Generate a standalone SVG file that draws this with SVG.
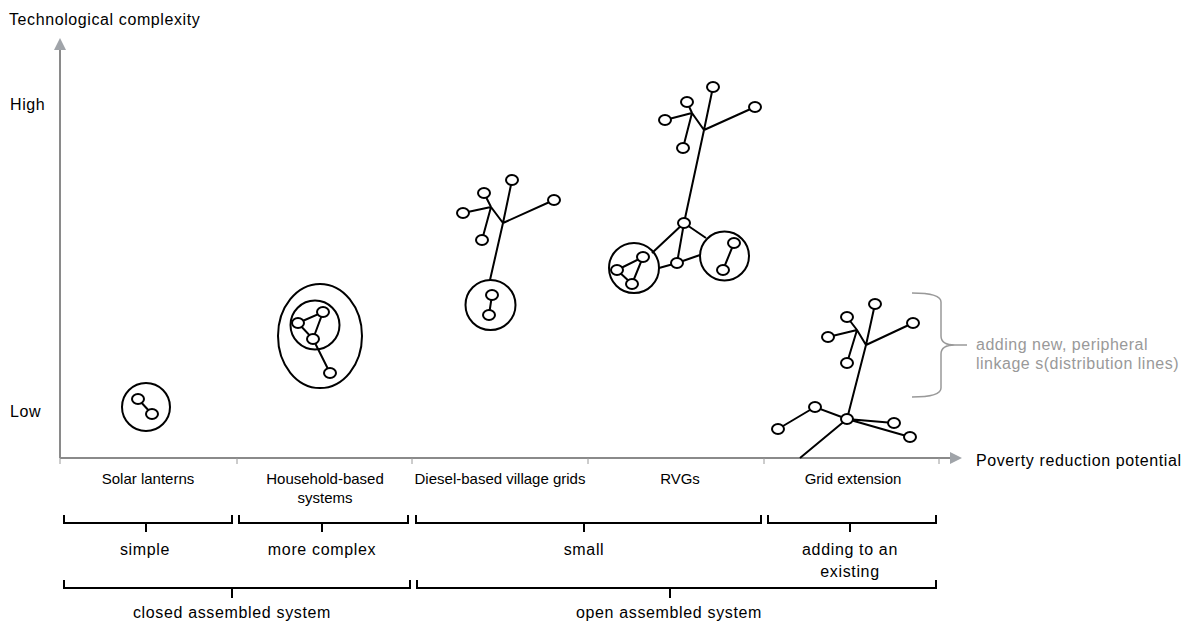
<svg xmlns="http://www.w3.org/2000/svg" width="1189" height="626" viewBox="0 0 1189 626">
<style>
text{font-family:"Liberation Sans",Arial,sans-serif;fill:#000}
.ax{font-size:16px;letter-spacing:0.6px}
.cat{font-size:15px;text-anchor:middle}
.br{font-size:16px;text-anchor:middle;letter-spacing:0.65px}
.gr{font-size:16px;fill:#999;letter-spacing:0.5px}
.axis{stroke:#8a8a8a;stroke-width:2;fill:none}
.tick{stroke:#9a9a9a;stroke-width:1}
.e{stroke:#000;stroke-width:2;fill:none}
.n{stroke:#000;stroke-width:2;fill:#fff}
.c{stroke:#000;stroke-width:2;fill:none}
.bk{stroke:#000;stroke-width:2;fill:none}
</style>
<defs>
<marker id="ah" viewBox="0 0 12 12" refX="0" refY="6" markerWidth="12" markerHeight="12" markerUnits="userSpaceOnUse" orient="auto">
<path d="M0,0 L12,6 L0,12 Z" fill="#a0a4a9"/>
</marker>
</defs>
<rect width="1189" height="626" fill="#fff"/>

<g id="axes">
<line class="axis" x1="60" y1="458" x2="60" y2="50" marker-end="url(#ah)"/>
<line class="axis" x1="60" y1="458" x2="950" y2="458" marker-end="url(#ah)"/>
<line class="tick" x1="60" y1="458" x2="60" y2="464"/>
<line class="tick" x1="237" y1="458" x2="237" y2="464"/>
<line class="tick" x1="412" y1="458" x2="412" y2="464"/>
<line class="tick" x1="588" y1="458" x2="588" y2="464"/>
<line class="tick" x1="764" y1="458" x2="764" y2="464"/>
<line class="tick" x1="939" y1="458" x2="939" y2="464"/>
<text class="ax" x="9" y="25">Technological complexity</text>
<text class="ax" x="10" y="110">High</text>
<text class="ax" x="10" y="417">Low</text>
<text class="ax" x="976" y="466">Poverty reduction potential</text>
</g>

<g id="category-labels">
<text class="cat" x="148" y="484">Solar lanterns</text>
<text class="cat" x="325" y="484">Household-based</text>
<text class="cat" x="325" y="503">systems</text>
<text class="cat" x="500" y="484">Diesel-based village grids</text>
<text class="cat" x="680" y="484">RVGs</text>
<text class="cat" x="853" y="484">Grid extension</text>
</g>

<g id="brackets">
<path class="bk" d="M64,515 V523 H232 V515 M146,523 V532"/>
<path class="bk" d="M239,515 V523 H408 V515 M322,523 V532"/>
<path class="bk" d="M416,515 V523 H761 V515 M584,523 V532"/>
<path class="bk" d="M768,515 V523 H936 V515 M850,523 V532"/>
<path class="bk" d="M64,580 V588 H410 V580 M232,588 V598"/>
<path class="bk" d="M417,580 V588 H936 V580 M670,588 V598"/>
<text class="br" x="145" y="555">simple</text>
<text class="br" x="322" y="555">more complex</text>
<text class="br" x="584" y="555">small</text>
<text class="br" x="850" y="555">adding to an</text>
<text class="br" x="850" y="577">existing</text>
<text class="br" x="232" y="618">closed assembled system</text>
<text class="br" x="669" y="618">open assembled system</text>
</g>

<g id="connectors">
<line class="e" x1="138" y1="399" x2="152" y2="414"/>
<path class="e" d="M298,323 L323,312 L313,339 Z M313,339 L330,373"/>
<path class="e" d="M484,193 L491,207 L503,223 M463,213 L491,207 M482,240 L491,207 M503,223 L512,180 M503,223 L554,200 M503,223 L490,280 M492,295 L489,315"/>
<path class="e" d="M687,102 L692,113 L704,130 M665,120 L692,113 M683,148 L692,113 M704,130 L713,87 M704,130 L755,107 M704,130 L684,223"/>
<path class="e" d="M684,223 L652,253 M684,223 L677,263 M684,223 L706,238 M677,263 L659,268 M677,263 L700,255"/>
<path class="e" d="M617,270 L643,257 L632,284 Z M734,243 L723,270"/>
<path class="e" d="M847,317 L857,330 L866,345 M828,337 L857,330 M847,363 L857,330 M866,345 L875,304 M866,345 L913,323 M866,345 L847,419"/>
<path class="e" d="M847,419 L815,407 L778,429 M847,419 L894,423 M847,419 L910,437 M847,419 L800,458"/>
</g>

<g id="solar-lanterns">
<circle class="c" cx="146" cy="407" r="24"/>
<ellipse class="n" cx="138" cy="399" rx="6" ry="5"/>
<ellipse class="n" cx="152" cy="414" rx="6" ry="5"/>
</g>

<g id="household-systems">
<ellipse class="c" cx="320" cy="336" rx="42" ry="52"/>
<circle class="c" cx="315" cy="325" r="24.5"/>
<ellipse class="n" cx="298" cy="323" rx="6" ry="5"/>
<ellipse class="n" cx="323" cy="312" rx="6" ry="5"/>
<ellipse class="n" cx="313" cy="339" rx="6" ry="5"/>
<ellipse class="n" cx="330" cy="373" rx="6" ry="5"/>
</g>

<g id="diesel-village-grid">
<circle class="c" cx="490.5" cy="305" r="25"/>
<ellipse class="n" cx="492" cy="295" rx="6" ry="5"/>
<ellipse class="n" cx="489" cy="315" rx="6" ry="5"/>
<ellipse class="n" cx="512" cy="180" rx="6" ry="5"/>
<ellipse class="n" cx="484" cy="193" rx="6" ry="5"/>
<ellipse class="n" cx="463" cy="213" rx="6" ry="5"/>
<ellipse class="n" cx="482" cy="240" rx="6" ry="5"/>
<ellipse class="n" cx="554" cy="200" rx="6" ry="5"/>
</g>

<g id="rvgs">
<circle class="c" cx="634" cy="268" r="25"/>
<circle class="c" cx="724.5" cy="256" r="24.5"/>
<ellipse class="n" cx="617" cy="270" rx="6" ry="5"/>
<ellipse class="n" cx="643" cy="257" rx="6" ry="5"/>
<ellipse class="n" cx="632" cy="284" rx="6" ry="5"/>
<ellipse class="n" cx="734" cy="243" rx="6" ry="5"/>
<ellipse class="n" cx="723" cy="270" rx="6" ry="5"/>
<ellipse class="n" cx="677" cy="263" rx="6" ry="5"/>
<ellipse class="n" cx="684" cy="223" rx="6" ry="5"/>
<ellipse class="n" cx="713" cy="87" rx="6" ry="5"/>
<ellipse class="n" cx="687" cy="102" rx="6" ry="5"/>
<ellipse class="n" cx="665" cy="120" rx="6" ry="5"/>
<ellipse class="n" cx="683" cy="148" rx="6" ry="5"/>
<ellipse class="n" cx="755" cy="107" rx="6" ry="5"/>
</g>

<g id="grid-extension">
<ellipse class="n" cx="875" cy="304" rx="6" ry="5"/>
<ellipse class="n" cx="847" cy="317" rx="6" ry="5"/>
<ellipse class="n" cx="828" cy="337" rx="6" ry="5"/>
<ellipse class="n" cx="847" cy="363" rx="6" ry="5"/>
<ellipse class="n" cx="913" cy="323" rx="6" ry="5"/>
<ellipse class="n" cx="847" cy="419" rx="6" ry="5"/>
<ellipse class="n" cx="815" cy="407" rx="6" ry="5"/>
<ellipse class="n" cx="778" cy="429" rx="6" ry="5"/>
<ellipse class="n" cx="894" cy="423" rx="6" ry="5"/>
<ellipse class="n" cx="910" cy="437" rx="6" ry="5"/>
</g>

<g id="peripheral-note">
<path d="M912,293 Q941,293 941,302 L941,336 Q941,345 955,345 L967,345 M955,345 Q941,345 941,354 L941,388 Q941,397 912,397" fill="none" stroke="#999" stroke-width="1.5"/>
<text class="gr" x="976" y="350">adding new, peripheral</text>
<text class="gr" x="976" y="369">linkage s(distribution lines)</text>
</g>
</svg>
